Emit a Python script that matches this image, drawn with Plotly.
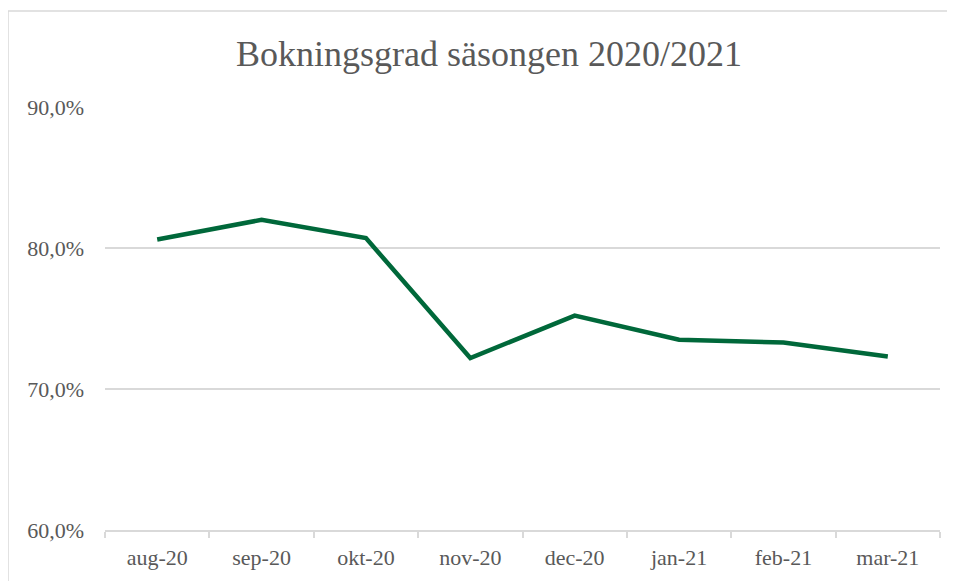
import plotly.graph_objects as go

months = ["aug-20", "sep-20", "okt-20", "nov-20", "dec-20", "jan-21", "feb-21", "mar-21"]
occupancy = [80.6, 82.0, 80.7, 72.2, 75.2, 73.5, 73.3, 72.3]
title_text = "Bokningsgrad säsongen 2020/2021"

# page body adds an 8px margin; lay out in window pixels minus that offset
OFF = 8
W, H = 955, 581 - OFF
L, T, B = 105 - OFF, 107 - OFF, 581 - 530
R = W - (940 - OFF)
pw, ph = W - L - R, H - T - B

def px_to_paper_x(px):
    return (px - OFF - L) / pw

def px_to_paper_y(py):
    return 1 - (py - OFF - T) / ph

fig = go.Figure()
fig.add_trace(go.Scatter(
    x=months, y=occupancy, mode="lines",
    line=dict(color="#00683A", width=4.5),
    hoverinfo="x+y",
))

font_family = "Liberation Serif"
gray = "#595959"
border = dict(color="#d9d9d9", width=1.5)

fig.update_layout(
    width=W, height=H,
    margin=dict(l=L, r=R, t=T, b=B),
    paper_bgcolor="white", plot_bgcolor="white",
    separators=", ",
    showlegend=False,
    font=dict(family=font_family, color=gray),
    title=dict(text=title_text, x=(489 - OFF) / W, xanchor="center",
               y=1 - (53 - OFF) / H, yanchor="middle", yref="container",
               font=dict(family=font_family, size=36, color=gray)),
    xaxis=dict(
        type="category", range=[-0.5, 7.5],
        showline=True, linecolor="#d9d9d9", linewidth=1.5,
        ticks="outside", tickson="boundaries", ticklen=6, tickcolor="#d9d9d9", tickwidth=1.5,
        showgrid=False, tickfont=dict(size=22, color=gray, family=font_family),
        ticklabelstandoff=7,
    ),
    yaxis=dict(
        range=[60, 90], tick0=60, dtick=10,
        tickformat=".1f", ticksuffix="%",
        showgrid=True, gridcolor="#d9d9d9", gridwidth=1.5,
        showline=False, zeroline=False, ticks="",
        tickfont=dict(size=22, color=gray, family=font_family),
        ticklabelstandoff=20,
    ),
    shapes=[
        dict(type="line", xref="paper", yref="paper",
             x0=px_to_paper_x(8), x1=px_to_paper_x(990),
             y0=px_to_paper_y(11), y1=px_to_paper_y(11),
             line=border, layer="below"),
        dict(type="line", xref="paper", yref="paper",
             x0=px_to_paper_x(8), x1=px_to_paper_x(8),
             y0=px_to_paper_y(11), y1=px_to_paper_y(620),
             line=border, layer="below"),
    ],
)

fig.write_html("out.html")
